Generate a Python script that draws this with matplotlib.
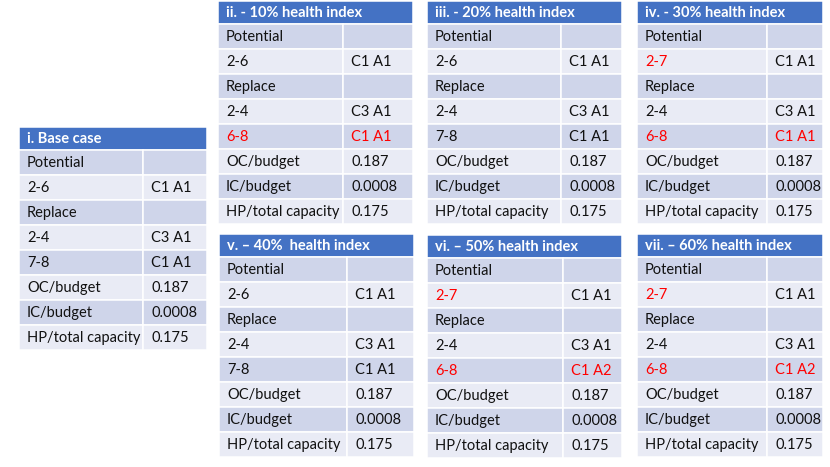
import matplotlib.pyplot as plt
from matplotlib.patches import Rectangle

# table contents
titles = ["i. Base case", "ii. - 10% health index", "iii. - 20% health index",
          "iv. - 30% health index", "v. \u2013 40%  health index",
          "vi. \u2013 50% health index", "vii. \u2013 60% health index"]
potential_range = ["2-6", "2-6", "2-6", "2-7", "2-6", "2-7", "2-7"]
potential_code = ["C1 A1"] * 7
replace_a_range = ["2-4"] * 7
replace_a_code = ["C3 A1"] * 7
replace_b_range = ["7-8", "6-8", "7-8", "6-8", "7-8", "6-8", "6-8"]
replace_b_code = ["C1 A1", "C1 A1", "C1 A1", "C1 A1", "C1 A1", "C1 A2", "C1 A2"]
oc_budget = ["0.187"] * 7
ic_budget = ["0.0008"] * 7
hp_capacity = ["0.175"] * 7
# highlighted (red) cells
red_potential = [False, False, False, True, False, True, True]
red_replace = [False, True, False, True, False, True, True]

# layout in pixels: left, top, width, label column width
boxes = [(19, 127, 188, 124), (218, 1, 195, 125), (427, 1, 195, 134),
         (637, 1, 186, 130), (219, 234, 195, 128), (427, 235, 195, 136),
         (637, 234, 186, 130)]
HEAD_H = 23
ROW_H = 25
PAD = 8

BLUE = "#4472C4"
DARK = "#CFD5EA"
LIGHT = "#E9EBF5"
RED = "#FF0000"
TXT = "#111111"

plt.rcParams['font.family'] = ['Lato', 'DejaVu Sans']

fig = plt.figure(figsize=(8.3, 4.67), dpi=100)
ax = fig.add_axes([0, 0, 1, 1])
ax.set_xlim(0, 830)
ax.set_ylim(467, 0)
ax.axis('off')

for t in range(7):
    x0, y0, w, cw = boxes[t]
    ax.add_patch(Rectangle((x0, y0), w, HEAD_H, facecolor=BLUE, edgecolor='white', lw=1.1))
    ax.text(x0 + PAD, y0 + HEAD_H / 2 + 0.5, titles[t], color='white', fontsize=10.5,
            fontweight='bold', va='center', ha='left')
    rows = [("Potential", "", False, False),
            (potential_range[t], potential_code[t], red_potential[t], False),
            ("Replace", "", False, False),
            (replace_a_range[t], replace_a_code[t], False, False),
            (replace_b_range[t], replace_b_code[t], red_replace[t], red_replace[t]),
            ("OC/budget", oc_budget[t], False, False),
            ("IC/budget", ic_budget[t], False, False),
            ("HP/total capacity", hp_capacity[t], False, False)]
    for i, (lab, val, rl, rv) in enumerate(rows):
        y = y0 + HEAD_H + i * ROW_H
        fc = DARK if i % 2 == 0 else LIGHT
        ax.add_patch(Rectangle((x0, y), cw, ROW_H, facecolor=fc, edgecolor='white', lw=1.1))
        ax.add_patch(Rectangle((x0 + cw, y), w - cw, ROW_H, facecolor=fc, edgecolor='white', lw=1.1))
        ax.text(x0 + PAD, y + ROW_H / 2 + 0.5, lab, color=RED if rl else TXT,
                fontsize=10.5, va='center', ha='left')
        if val:
            ax.text(x0 + cw + PAD, y + ROW_H / 2 + 0.5, val, color=RED if rv else TXT,
                    fontsize=10.5, va='center', ha='left')

fig.savefig("out.png", dpi=100, facecolor='white')
